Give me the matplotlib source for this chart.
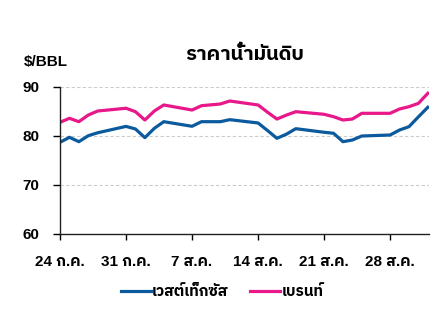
import matplotlib
matplotlib.use("Agg")
import matplotlib.pyplot as plt
import pandas as pd

# ---- data ----
dates = ["2023-07-24", "2023-07-25", "2023-07-26", "2023-07-27", "2023-07-28",
         "2023-07-31", "2023-08-01", "2023-08-02", "2023-08-03", "2023-08-04",
         "2023-08-07", "2023-08-08", "2023-08-09", "2023-08-10", "2023-08-11",
         "2023-08-14", "2023-08-15", "2023-08-16", "2023-08-17", "2023-08-18",
         "2023-08-21", "2023-08-22", "2023-08-23", "2023-08-24", "2023-08-25",
         "2023-08-28", "2023-08-29", "2023-08-30", "2023-08-31", "2023-09-01"]
wti = [78.65, 79.67, 78.78, 80.0, 80.6,
       81.9, 81.37, 79.6, 81.5, 82.86,
       81.92, 82.86, 82.86, 82.86, 83.27,
       82.6, 81.06, 79.47, 80.3, 81.43,
       80.7, 80.5, 78.78, 79.12, 79.94,
       80.14, 81.16, 81.84, 83.84, 85.8]
brent = [82.73, 83.55, 82.86, 84.22, 85.04,
         85.6, 84.9, 83.2, 85.04, 86.27,
         85.24, 86.12, 86.3, 86.47, 87.08,
         86.27, 84.8, 83.4, 84.2, 84.9,
         84.37, 83.88, 83.2, 83.4, 84.57,
         84.57, 85.45, 85.92, 86.6, 88.65]
tick_dates = ["2023-07-24", "2023-07-31", "2023-08-07", "2023-08-14", "2023-08-21", "2023-08-28"]
tick_labels = ["24 ก.ค.", "31 ก.ค.", "7 ส.ค.", "14 ส.ค.", "21 ส.ค.", "28 ส.ค."]
yticks = [60, 70, 80, 90]
series_names = ["เวสต์เท็กซัส", "เบรนท์"]
title = "ราคาน้ำมันดิบ"
unit = "$/BBL"

plt.rcParams["font.family"] = ["Liberation Sans", "IBM Plex Sans Thai", "DejaVu Sans"]

BLUE = "#0b5a9e"
PINK = "#e8178a"

x = pd.to_datetime(dates)
fig = plt.figure(figsize=(4.47, 3.17), dpi=100)
ax = fig.add_axes([60 / 447, 1 - 233.7 / 317, 369 / 447, 147 / 317])
ax.plot(x, wti, color=BLUE, lw=2.3, label=series_names[0])
ax.plot(x, brent, color=PINK, lw=2.3, label=series_names[1])

ax.set_ylim(60, 90)
ax.set_xlim(pd.Timestamp("2023-07-24"), pd.Timestamp("2023-09-01") + pd.Timedelta(hours=3))
ax.set_yticks(yticks)
ax.set_xticks(pd.to_datetime(tick_dates))
ax.set_xticklabels(tick_labels)
for s in ["top", "right"]:
    ax.spines[s].set_visible(False)
for s in ["left", "bottom"]:
    ax.spines[s].set_color("#222222")
    ax.spines[s].set_linewidth(1.0)
ax.grid(axis="y", color="#cccccc", ls=(0, (3, 2)), lw=0.8)
ax.set_axisbelow(True)
ax.tick_params(axis="y", length=5, width=1, pad=10, labelsize=11)
ax.tick_params(axis="x", length=4, width=1, pad=11, labelsize=11)
for lab in ax.get_yticklabels() + ax.get_xticklabels():
    lab.set_fontweight("bold")

fig.text(245 / 447, 1 - 55 / 317, title, ha="center", va="center", fontsize=14.5, fontweight="bold")
fig.text(24 / 447, 1 - 62 / 317, unit, ha="left", va="center", fontsize=11, fontweight="bold")

fig.legend(loc="center", bbox_to_anchor=(222 / 447, 1 - 292 / 317), ncol=2, frameon=False,
           prop={"weight": "bold", "size": 11}, handlelength=1.95, handletextpad=0.1,
           columnspacing=1.4, borderpad=0.2)

fig.savefig("out.png", dpi=100)
